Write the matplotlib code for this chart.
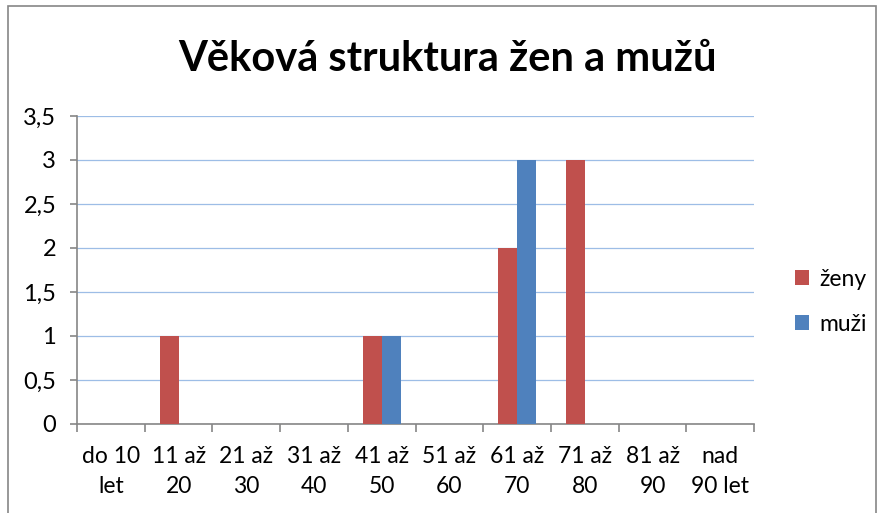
import numpy as np
import matplotlib.pyplot as plt
from matplotlib.patches import Rectangle
from matplotlib.ticker import FuncFormatter

plt.rcParams['font.family'] = ['Lato', 'DejaVu Sans']

# Age groups and counts
categories = ['do 10\nlet', '11 až\n20', '21 až\n30', '31 až\n40', '41 až\n50',
              '51 až\n60', '61 až\n70', '71 až\n80', '81 až\n90', 'nad\n90 let']
zeny = [0, 1, 0, 0, 1, 0, 2, 3, 0, 0]
muzi = [0, 0, 0, 0, 1, 0, 3, 0, 0, 0]

red = '#C0504D'
blue = '#4F81BD'

fig = plt.figure(figsize=(8.8, 5.13), dpi=100)
ax = fig.add_axes([0.0875, 0.1735, 0.7695, 0.6005])

x = np.arange(len(categories))
w = 0.28
ax.bar(x - w / 2, zeny, w, color=red, label='ženy', zorder=3)
ax.bar(x + w / 2, muzi, w, color=blue, label='muži', zorder=3)

ax.set_xlim(-0.5, len(categories) - 0.5)
ax.set_ylim(0, 3.5)
ax.set_yticks(np.arange(0, 3.51, 0.5))
ax.yaxis.set_major_formatter(FuncFormatter(lambda v, p: f'{v:g}'.replace('.', ',')))
ax.yaxis.grid(True, color='#9DBDE6', linewidth=0.9, zorder=0)

# category boundaries carry the x ticks, labels sit in the middle
ax.set_xticks(np.arange(-0.5, len(categories), 1.0))
ax.set_xticklabels([])
ax.set_xticks(x, minor=True)
ax.set_xticklabels(categories, minor=True, fontsize=16.5, linespacing=1.5)
ax.tick_params(axis='x', which='minor', length=0, pad=16)
ax.tick_params(axis='x', which='major', length=6, color='#868686', width=1.2)
ax.tick_params(axis='y', length=5, color='#868686', width=1.2, labelsize=17, pad=10)

for s in ['top', 'right']:
    ax.spines[s].set_visible(False)
for s in ['left', 'bottom']:
    ax.spines[s].set_color('#868686')
    ax.spines[s].set_linewidth(1.2)

fig.text(0.508, 0.885, 'Věková struktura žen a mužů', ha='center', va='center',
         fontsize=30, fontweight='bold')

leg = fig.legend(loc='center left', bbox_to_anchor=(0.88, 0.412), frameon=False,
                 fontsize=16.5, handlelength=0.62, handleheight=0.62,
                 handletextpad=0.45, labelspacing=1.05)

fig.patches.append(Rectangle((0.009, -0.01), 0.986, 0.999, transform=fig.transFigure,
                             fill=False, edgecolor='#868686', linewidth=1.2))

fig.savefig('out.png', dpi=100)
